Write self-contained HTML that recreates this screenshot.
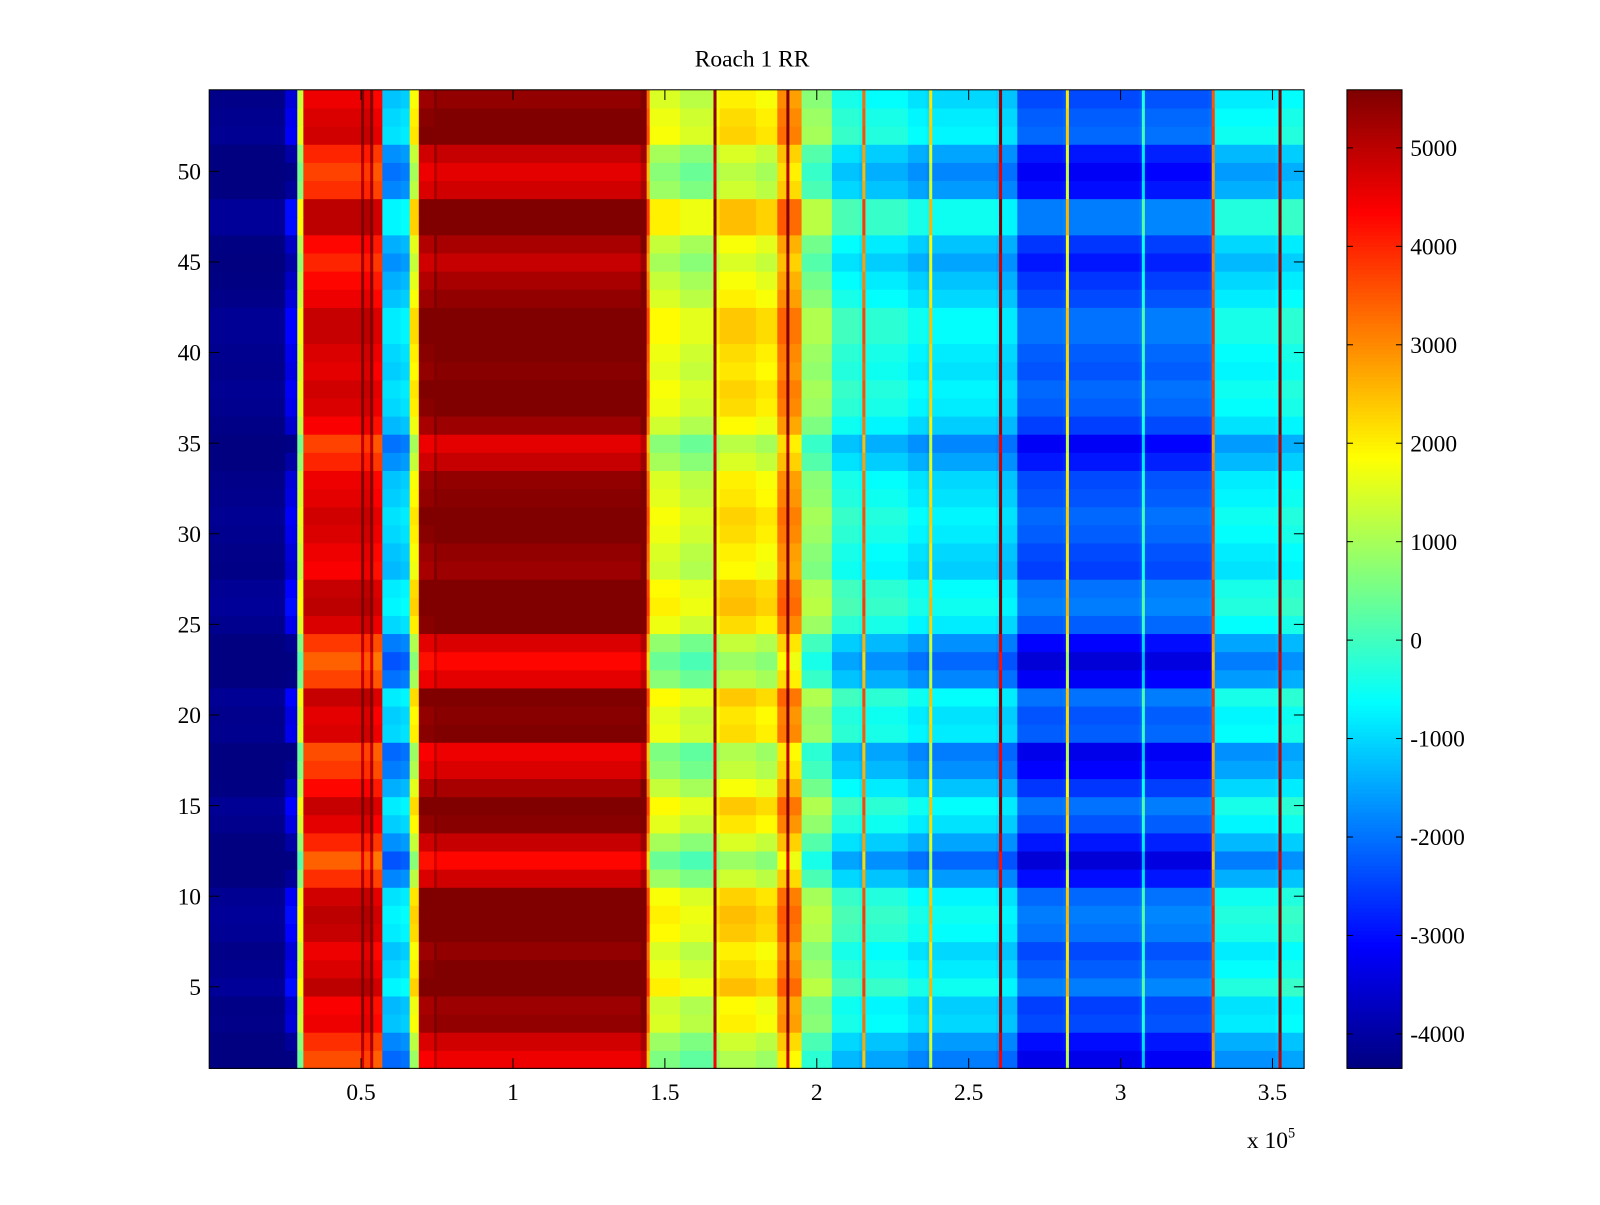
<!DOCTYPE html>
<html><head><meta charset="utf-8"><style>
html,body{margin:0;padding:0;background:#fff;}
svg text{font-family:"Liberation Serif",serif;font-size:23px;fill:#000;}
</style></head><body>
<svg id="c" width="1600" height="1200" xmlns="http://www.w3.org/2000/svg">
<g transform="scale(1.0204)">
<text x="737" y="65" text-anchor="middle">Roach 1 RR</text>
<g id="cells"></g>
<g id="cbar"></g>
<g id="axes"></g>
</g>
</svg>
<script>
// column profile segments (x in units of 1e5), value
const segStart = [0.00,0.25,0.29,0.31,0.50,0.51,0.53,0.54,0.57,0.63,0.66,0.69,0.74,0.75,1.42,1.44,1.45,1.55,1.66,1.67,1.68,1.80,1.87,1.90,1.91,1.95,2.05,2.14,2.15,2.16,2.30,2.36,2.37,2.38,2.59,2.60,2.61,2.66,2.81,2.82,2.83,3.06,3.07,3.08,3.29,3.30,3.31,3.51,3.52,3.53];
const segValue = [-4350,-3800,1000,4200,5400,4300,5500,4000,-1500,-1400,1500,5000,5500,5100,5500,3000,1200,900,5000,1400,1700,1500,2700,5500,2500,400,-700,-900,3000,-900,-1200,-1300,1800,-1300,-1400,5000,-1500,-2700,-2600,1800,-2700,-2600,-600,-2600,-2500,3200,-1100,-1000,5500,-900];
// per-row offsets, row 1 (bottom) to 54 (top)
const rowOffset = [-600,-300,300,200,800,500,300,700,800,600,-300,-800,-200,400,700,100,-400,-600,500,400,700,-500,-800,-400,500,800,700,200,300,500,600,400,300,-200,-500,200,500,600,400,500,700,700,300,100,-200,100,800,800,-300,-500,-200,600,500,300];
const xTicks = [0.5,1,1.5,2,2.5,3,3.5];
const xTickLabels = ["0.5","1","1.5","2","2.5","3","3.5"];
const yTicks = [5,10,15,20,25,30,35,40,45,50];
const cTicks = [-4000,-3000,-2000,-1000,0,1000,2000,3000,4000,5000];

const L=205,R=1278,T=88,B=1047, XMIN=0.0, XMAX=3.604, YMIN=0.5, YMAX=54.5, CMIN=-4350, CMAX=5590;
const sx=v=>L+(v-XMIN)/(XMAX-XMIN)*(R-L);
const sy=v=>B-(v-YMIN)/(YMAX-YMIN)*(B-T);
const CB_L=1320,CB_R=1374;
const sc=v=>B-(v-CMIN)/(CMAX-CMIN)*(B-T);
function jet(t){t=Math.max(0,Math.min(1,t));
 const f=x=>Math.round(255*Math.max(0,Math.min(1,x)));
 return `rgb(${f(1.5-Math.abs(4*t-3))},${f(1.5-Math.abs(4*t-2))},${f(1.5-Math.abs(4*t-1))})`;}
const NS='http://www.w3.org/2000/svg';
function mk(tag,attrs,parent){const e=document.createElementNS(NS,tag);for(const k in attrs)e.setAttribute(k,attrs[k]);parent.appendChild(e);return e;}
const cells=document.getElementById('cells');
for(let r=0;r<rowOffset.length;r++){
 const y0=sy(r+1.5),y1=sy(r+0.5);
 for(let s=0;s<segStart.length;s++){
  const x0=sx(segStart[s]), x1=s+1<segStart.length?sx(segStart[s+1]):R;
  const v=segValue[s]+ (segValue[s]>-4000?rowOffset[r]:rowOffset[r]*0.3);
  const e=mk('rect',{x:x0.toFixed(2),y:y0.toFixed(2),width:(x1-x0+0.6).toFixed(2),height:(y1-y0+0.6).toFixed(2),fill:jet((v-CMIN)/(CMAX-CMIN))},cells);
  
  
 }
}
const cbar=document.getElementById('cbar');
for(let i=0;i<256;i++){
 const v0=CMIN+(CMAX-CMIN)*i/256, v1=CMIN+(CMAX-CMIN)*(i+1)/256;
 const e=mk('rect',{x:CB_L,y:sc(v1),width:CB_R-CB_L,height:sc(v0)-sc(v1)+0.5,fill:jet((i+0.5)/256)},cbar);
 
 
}
mk('rect',{x:CB_L,y:T,width:CB_R-CB_L,height:B-T,fill:'none',stroke:'#000','stroke-width':1},cbar);
cTicks.forEach(v=>{const y=sc(v);
 mk('line',{x1:CB_L,x2:CB_L+6,y1:y,y2:y,stroke:'#000'},cbar);
 mk('line',{x1:CB_R,x2:CB_R-6,y1:y,y2:y,stroke:'#000'},cbar);
 const t=mk('text',{x:CB_R+8,y:y+8},cbar);t.textContent=String(v);
 
 
});
const ax=document.getElementById('axes');
mk('rect',{x:L,y:T,width:R-L,height:B-T,fill:'none',stroke:'#000','stroke-width':1},ax);
xTicks.forEach((v,i)=>{const x=sx(v);
 mk('line',{x1:x,x2:x,y1:B,y2:B-10,stroke:'#000'},ax);
 mk('line',{x1:x,x2:x,y1:T,y2:T+10,stroke:'#000'},ax);
 const t=mk('text',{x:x,y:B+31,'text-anchor':'middle'},ax);t.textContent=xTickLabels[i];
 
 
});
yTicks.forEach(v=>{const y=sy(v);
 mk('line',{x1:L,x2:L+10,y1:y,y2:y,stroke:'#000'},ax);
 mk('line',{x1:R,x2:R-10,y1:y,y2:y,stroke:'#000'},ax);
 const t=mk('text',{x:L-8,y:y+8,'text-anchor':'end'},ax);t.textContent=String(v);
 
 
});
const ex=mk('text',{x:1222,y:1125},ax);ex.innerHTML='x 10<tspan dy="-10" font-size="14">5</tspan>';


</script>
</body></html>
